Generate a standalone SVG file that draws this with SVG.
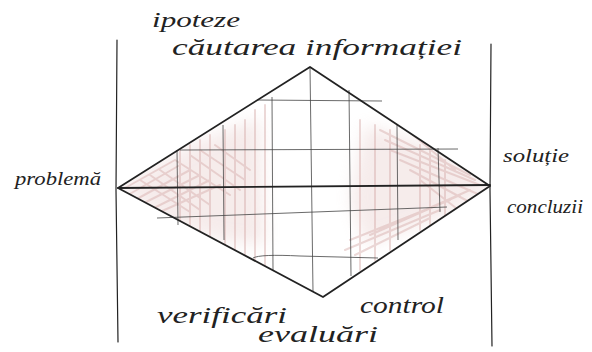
<svg xmlns="http://www.w3.org/2000/svg" width="592" height="352" viewBox="0 0 592 352">
<style>
.ink{stroke:#222;fill:none;stroke-linecap:round;stroke-linejoin:round}
.thick{stroke-width:1.8}
.thin{stroke-width:1.2}
.faint{stroke:#444;stroke-width:0.8;fill:none}
.pink{stroke:#d4aaa8;stroke-width:2;fill:none;opacity:0.45;stroke-linecap:round}
.wash{fill:#e8cfcd;opacity:0.4;stroke:none}
.lbl{font-family:"Liberation Serif",serif;font-style:italic;fill:#222}
</style>
<defs>
<clipPath id="dia"><path d="M118 188 L310 67 L490 186 L323 297 Z"/></clipPath>
<filter id="soft" x="-20%" y="-20%" width="140%" height="140%"><feGaussianBlur stdDeviation="8"/></filter>
</defs>
<rect width="592" height="352" fill="#fff"/>
<g id="shading" clip-path="url(#dia)">
<path class="wash" filter="url(#soft)" d="M115 188 L200 140 L260 118 L265 245 L220 240 L170 225 Z"/>
<path class="wash" filter="url(#soft)" d="M365 125 L430 145 L495 186 L440 218 L365 245 L350 200 Z"/>
<path class="pink" d="M125 188 L175 160 M128 195 L180 165 M135 200 L190 170 M140 205 L200 175 M150 210 L210 180 M160 212 L220 185 M140 180 L190 212 M150 175 L200 210 M160 170 L210 205 M175 160 L230 195 M190 155 L240 190 M200 150 L245 180 M215 145 L250 170 M180 150 L180 230 M190 145 L190 235 M200 140 L200 240 M210 135 L210 245 M225 130 L225 250 M235 125 L235 255 M245 120 L245 260 M255 110 L255 265 M265 105 L265 270"/>
<path class="pink" d="M380 130 L470 175 M385 140 L475 180 M390 150 L480 185 M400 160 L480 195 M410 170 L475 205 M420 180 L465 215 M380 230 L470 190 M370 235 L460 195 M350 240 L450 200 M345 250 L440 210 M355 255 L430 218 M395 120 L455 170 M360 120 L360 270 M375 125 L375 260 M390 130 L390 250 M420 145 L420 230 M430 150 L430 225 M445 160 L445 215"/>
</g>
<g id="frame">
<path class="ink thin" d="M117 40 L116 190 L118 342"/>
<path class="ink thin" d="M491 44 L490 190 L492 346"/>
</g>
<g id="grid">
<path class="faint" d="M257 100 L382 101 M180 150 L458 149 M157 218 L447 207 M253 258 Q260 254 300 256 L378 258"/>
<path class="faint" d="M177 150 L178 225 M223 125 L224 240 M272 97 L273 270 M310 67 L313 292 M349 90 L351 276 M397 125 L398 240 M438 148 L440 212"/>
</g>
<g id="diamond">
<path class="ink thick" d="M118 188 L310 67 L490 186 L323 297 Z"/>
<path class="ink thick" d="M118 188 L490 185"/>
</g>
<g id="labels">
<text class="lbl" x="152" y="27" font-size="21" textLength="88" lengthAdjust="spacingAndGlyphs">ipoteze</text>
<text class="lbl" x="172" y="55" font-size="24" textLength="290" lengthAdjust="spacingAndGlyphs">căutarea informației</text>
<text class="lbl" x="15" y="185" font-size="19" textLength="86" lengthAdjust="spacingAndGlyphs">problemă</text>
<text class="lbl" x="503" y="162" font-size="19" textLength="66" lengthAdjust="spacingAndGlyphs">soluție</text>
<text class="lbl" x="507" y="213" font-size="18" textLength="76" lengthAdjust="spacingAndGlyphs">concluzii</text>
<text class="lbl" x="157" y="323" font-size="24" textLength="130" lengthAdjust="spacingAndGlyphs">verificări</text>
<text class="lbl" x="360" y="313" font-size="24" textLength="84" lengthAdjust="spacingAndGlyphs">control</text>
<text class="lbl" x="258" y="342" font-size="24" textLength="120" lengthAdjust="spacingAndGlyphs">evaluări</text>
</g>
</svg>
